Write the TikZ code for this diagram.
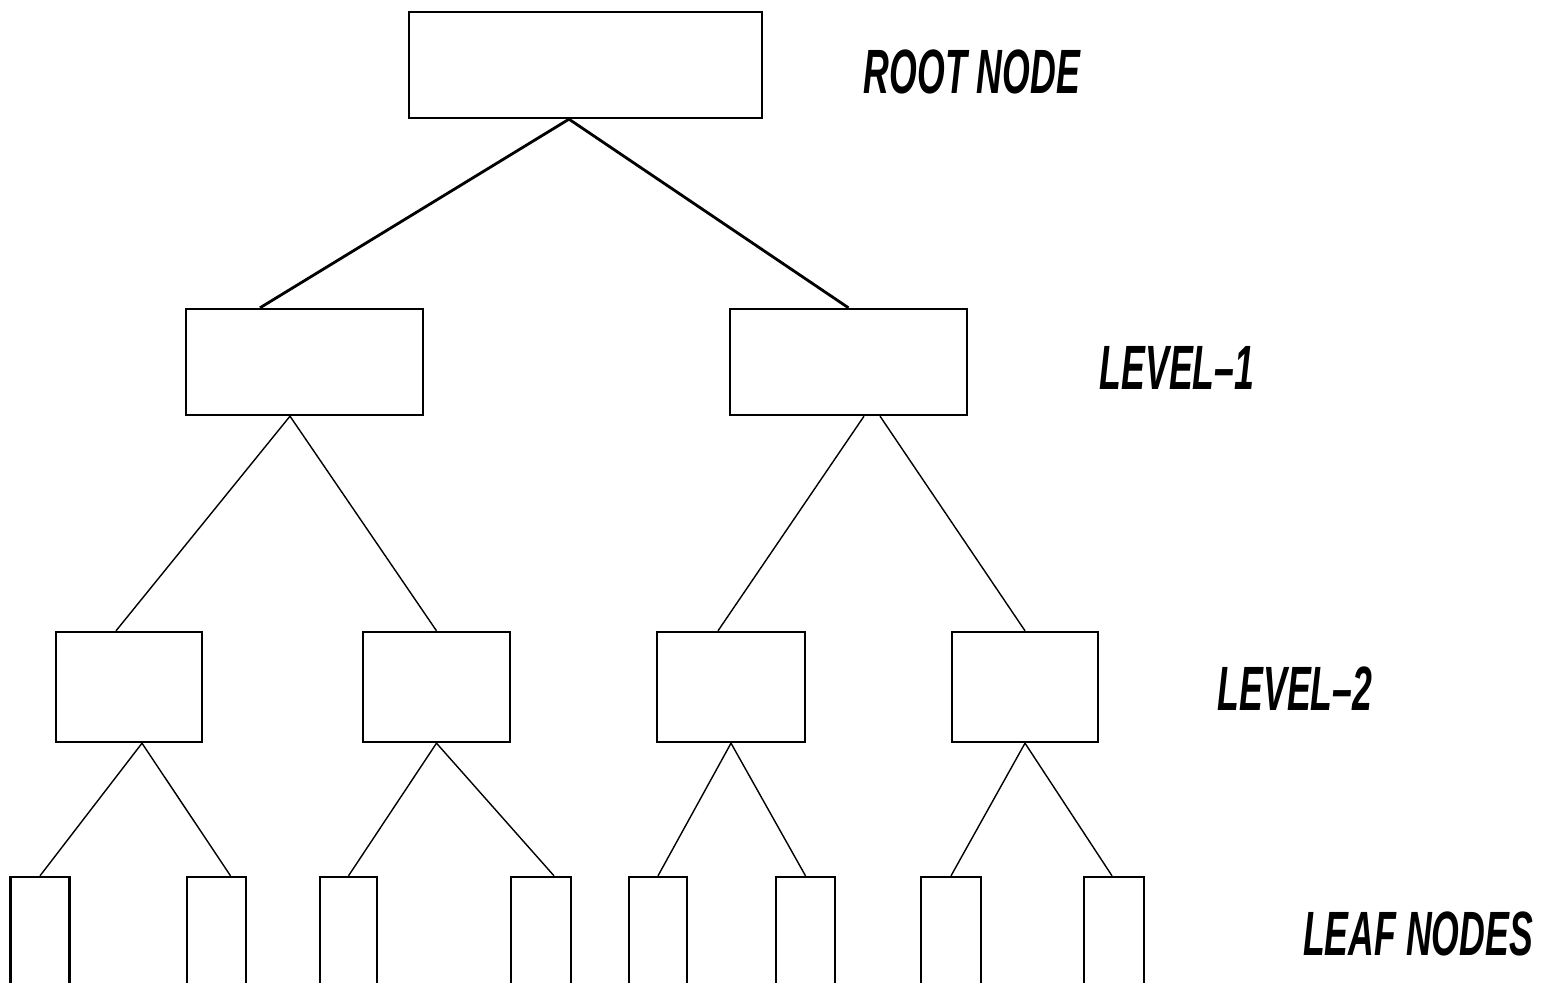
\documentclass[tikz,border=0pt]{standalone}
\usepackage{fontspec}
\usepackage{tikz}
\newfontfamily\lblfont[FakeStretch=0.57]{Liberation Sans}

\begin{document}
\begin{tikzpicture}[x=0.01cm, y=-0.01cm]
\tikzstyle{box}=[rectangle, draw, line width=0.65pt, inner sep=0pt]
\tikzstyle{leaf}=[box, minimum width=0.59cm, minimum height=1.3cm]
\tikzstyle{lvl}=[font=\lblfont\fontsize{17.8}{20}\selectfont\bfseries\itshape, inner sep=0pt]
\useasboundingbox (0,0) rectangle (1543,982);
\clip (0,0) rectangle (1543,982);

% boxes
\node[box, minimum width=3.53cm, minimum height=1.06cm] (root) at (585.5,65) {};
\node[box, minimum width=2.37cm, minimum height=1.06cm] (l) at (304.5,362) {};
\node[box, minimum width=2.37cm, minimum height=1.06cm] (r) at (848.5,362) {};
\node[box, minimum width=1.46cm, minimum height=1.1cm] (ll) at (129,687) {};
\node[box, minimum width=1.47cm, minimum height=1.1cm] (lr) at (436.5,687) {};
\node[box, minimum width=1.48cm, minimum height=1.1cm] (rl) at (731,687) {};
\node[box, minimum width=1.46cm, minimum height=1.1cm] (rr) at (1025,687) {};
\node[leaf] (a) at (40,942) {};
\node[leaf] (b) at (216.5,942) {};
\node[leaf, minimum width=0.57cm] (c) at (348.5,942) {};
\node[leaf, minimum width=0.6cm] (d) at (541,942) {};
\node[leaf, minimum width=0.58cm] (e) at (658,942) {};
\node[leaf] (f) at (805.5,942) {};
\node[leaf, minimum width=0.6cm] (g) at (951,942) {};
\node[leaf, minimum width=0.6cm] (h) at (1114,942) {};

% labels
\node[lvl] (t0) at (972,72) {ROOT NODE};
\node[lvl] (t1) at (1177,368) {LEVEL–1};
\node[lvl] (t2) at (1295,689) {LEVEL–2};
\node[lvl] (t3) at (1418,934) {LEAF NODES};

% links
\path[line width=0.8pt]
([xshift=-1.65mm]root.south) edge ([xshift=-4.45mm]l.north)
                             edge (r.north);
\path[line width=0.4pt]
([xshift=-1.45mm]l.south) edge ([xshift=-1.3mm]ll.north)
                          edge (lr.north)
([xshift=1.55mm]r.south)  edge ([xshift=-1.3mm]rl.north)
([xshift=3.15mm]r.south)  edge (rr.north)
([xshift=1.3mm]ll.south)  edge (a.north)
                          edge ([xshift=1.4mm]b.north)
(lr.south) edge (c.north)
           edge ([xshift=1.3mm]d.north)
(rl.south) edge (e.north)
           edge (f.north)
(rr.south) edge (g.north)
           edge ([xshift=-0.2mm]h.north);
\end{tikzpicture}
\end{document}
